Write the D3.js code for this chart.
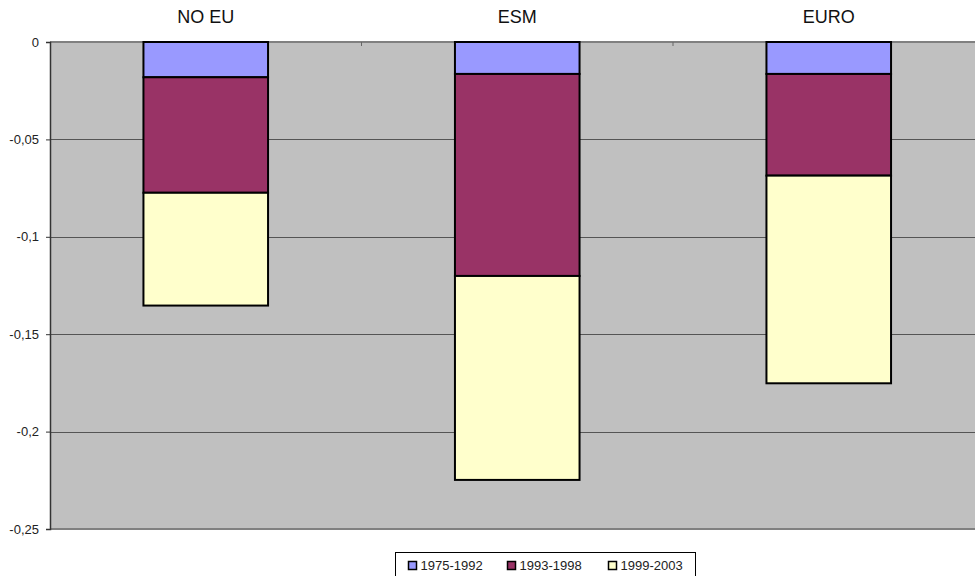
<!DOCTYPE html>
<html>
<head>
<meta charset="utf-8">
<script src="https://cdn.jsdelivr.net/npm/d3@7/dist/d3.min.js"></script>
<style>
  html, body { margin: 0; padding: 0; background: #fff; }
  svg { display: block; }
  text { font-family: "Liberation Sans", Arial, sans-serif; }
</style>
</head>
<body>
<svg id="chart" width="975" height="576"></svg>
<script>
// ---- data ----
const categories = ["NO EU", "ESM", "EURO"];
const seriesNames = ["1975-1992", "1993-1998", "1999-2003"];
const s1975_1992 = [-0.0181, -0.0164, -0.0164];
const s1993_1998 = [-0.0593, -0.1037, -0.0522];
const s1999_2003 = [-0.0579, -0.1047, -0.1066];
const yTicks = [0, -0.05, -0.1, -0.15, -0.2, -0.25];
const yTickLabels = ["0", "-0,05", "-0,1", "-0,15", "-0,2", "-0,25"];
const colors = ["#9999ff", "#993366", "#ffffcc"];

const seriesValues = [s1975_1992, s1993_1998, s1999_2003];
const table = categories.map((c, i) => {
  const row = { cat: c };
  seriesNames.forEach((s, j) => row[s] = seriesValues[j][i]);
  return row;
});

// ---- layout ----
const svg = d3.select("#chart");
const plot = { left: 50, top: 42, right: 984.5, bottom: 529 };

const x = d3.scaleBand().domain(categories)
  .range([plot.left, plot.right]).paddingInner(0.6).paddingOuter(0.3);
const y = d3.scaleLinear().domain([-0.25, 0]).range([plot.bottom, plot.top]);

// plot background
svg.append("rect")
  .attr("x", plot.left).attr("y", plot.top)
  .attr("width", plot.right - plot.left).attr("height", plot.bottom - plot.top)
  .attr("fill", "#c0c0c0");

// gridlines
svg.append("g").selectAll("line").data(yTicks.slice(1, -1)).join("line")
  .attr("x1", plot.left).attr("x2", plot.right)
  .attr("y1", d => Math.round(y(d)) + 0.5).attr("y2", d => Math.round(y(d)) + 0.5)
  .attr("stroke", "#555").attr("stroke-width", 1);

// plot border top & bottom
svg.append("line").attr("x1", plot.left).attr("x2", plot.right)
  .attr("y1", plot.top).attr("y2", plot.top)
  .attr("stroke", "#808080").attr("stroke-width", 2);
svg.append("line").attr("x1", plot.left).attr("x2", plot.right)
  .attr("y1", plot.bottom).attr("y2", plot.bottom)
  .attr("stroke", "#808080").attr("stroke-width", 2);

// bars
const stack = d3.stack().keys(seriesNames).offset(d3.stackOffsetDiverging);
const stacked = stack(table);
svg.append("g").selectAll("g").data(stacked).join("g")
  .attr("fill", (d, i) => colors[i])
  .selectAll("rect").data(d => d).join("rect")
  .attr("x", d => x(d.data.cat))
  .attr("width", x.bandwidth())
  .attr("y", d => y(Math.max(d[0], d[1])))
  .attr("height", d => Math.abs(y(d[0]) - y(d[1])))
  .attr("stroke", "#000").attr("stroke-width", 2);

// y axis
const yAxis = d3.axisLeft(y).tickValues(yTicks)
  .tickFormat((d, i) => yTickLabels[i]).tickSize(4).tickPadding(7);
const gy = svg.append("g").attr("transform", `translate(${plot.left},0)`).call(yAxis);
gy.select(".domain").attr("stroke", "#333").attr("stroke-width", 1.5);
gy.selectAll(".tick line").attr("stroke", "#333");
gy.selectAll(".tick text").attr("font-size", 13).attr("fill", "#222")
  .attr("font-family", "'Liberation Sans', Arial, sans-serif");

// top category axis (at zero)
const xAxis = d3.axisTop(x).tickSize(0).tickPadding(0);
const gx = svg.append("g").attr("transform", `translate(0,${y(0)})`).call(xAxis);
gx.select(".domain").remove();
gx.selectAll(".tick text").attr("font-size", 18).attr("fill", "#111")
  .attr("font-family", "'Liberation Sans', Arial, sans-serif")
  .attr("dy", 0).attr("y", -19);
// category boundary ticks
const step = x.step();
const boundaries = categories.slice(1).map(c => x(c) - x.paddingInner() * step / 2);
svg.append("g").selectAll("line").data(boundaries).join("line")
  .attr("x1", d => d).attr("x2", d => d)
  .attr("y1", plot.top).attr("y2", plot.top + 4)
  .attr("stroke", "#666").attr("stroke-width", 1);

// legend
const lg = svg.append("g");
lg.append("rect").attr("x", 395.5).attr("y", 552.5).attr("width", 300).attr("height", 30)
  .attr("fill", "#fff").attr("stroke", "#000").attr("stroke-width", 1);
const legX = [408.5, 507.5, 608.5];
seriesNames.forEach((s, i) => {
  lg.append("rect").attr("x", legX[i]).attr("y", 561.5).attr("width", 8).attr("height", 8)
    .attr("fill", colors[i]).attr("stroke", "#000").attr("stroke-width", 1.5);
  lg.append("text").attr("x", legX[i] + 12).attr("y", 570)
    .attr("font-size", 13).attr("fill", "#222").text(s);
});
</script>
</body>
</html>
